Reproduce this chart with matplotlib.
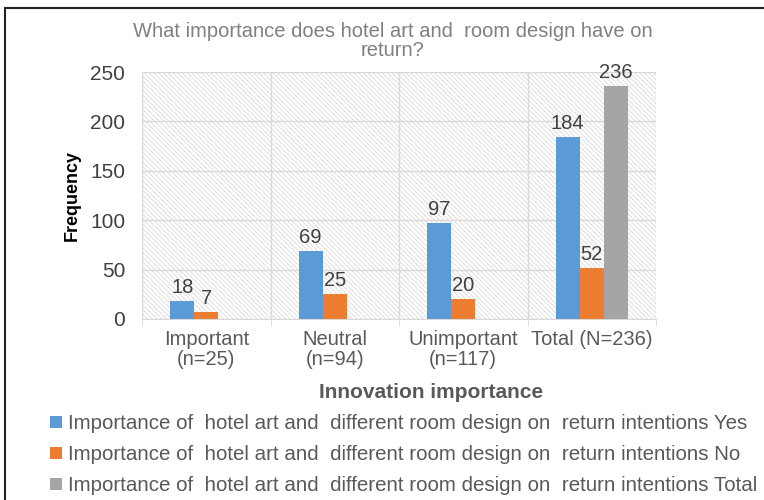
import numpy as np
import matplotlib.pyplot as plt
from matplotlib.patches import Rectangle

# ------------------------------
# Data
# ------------------------------
categories = ["Important\n(n=25)", "Neutral\n(n=94)", "Unimportant\n(n=117)", "Total (N=236)"]
yes_vals = [18, 69, 97, 184]
no_vals = [7, 25, 20, 52]
total_vals = [np.nan, np.nan, np.nan, 236]
series_names = [
    "Importance of  hotel art and  different room design on  return intentions Yes",
    "Importance of  hotel art and  different room design on  return intentions No",
    "Importance of  hotel art and  different room design on  return intentions Total",
]
series_colors = ["#5b9bd5", "#ed7d31", "#a5a5a5"]

plt.rcParams['font.family'] = ['Liberation Sans', 'DejaVu Sans']
plt.rcParams['hatch.linewidth'] = 0.6
plt.rcParams['hatch.color'] = '#d9d9d9'

fig = plt.figure(figsize=(7.64, 5.0), dpi=100)
ax = fig.add_axes([142/764, 1 - 319/500, (656-142)/764, (319-72)/500])

# hatched plot-area background
ax.add_patch(Rectangle((0, 0), 1, 1, transform=ax.transAxes, facecolor='white',
                       edgecolor='#d9d9d9', hatch='\\\\\\\\\\\\\\', linewidth=0, zorder=0))

x = np.arange(len(categories))
w = 0.187
text_col = '#404040'
for i, (vals, col, name) in enumerate(zip([yes_vals, no_vals, total_vals], series_colors, series_names)):
    pos = x + (i - 1) * w
    ax.bar(pos, vals, width=w, color=col, label=name, zorder=3)
    for p, v in zip(pos, vals):
        if not np.isnan(v):
            ax.text(p, v + 4, f"{int(v)}", ha='center', va='bottom', fontsize=14.5,
                    color=text_col, zorder=4)

ax.set_xlim(-0.5, 3.5)
ax.set_ylim(0, 250)
ax.set_yticks(range(0, 251, 50))
ax.tick_params(axis='y', length=0, labelsize=15, colors='#404040', pad=12)
ax.set_xticks(x)
ax.set_xticklabels(categories, fontsize=14.5, color='#595959', linespacing=1.05)
ax.tick_params(axis='x', length=0, pad=8)
ax.set_xticks(np.arange(-0.5, 4, 1), minor=True)
ax.tick_params(axis='x', which='minor', length=5, color='#d9d9d9')

ax.grid(axis='y', color='#d9d9d9', linewidth=1, zorder=1)
ax.grid(axis='x', which='minor', color='#d9d9d9', linewidth=1, zorder=1)
for s in ['top', 'right', 'left']:
    ax.spines[s].set_visible(False)
ax.spines['bottom'].set_color('#d9d9d9')

ax.set_ylabel("Frequency", fontsize=13, fontweight='bold', color='black', labelpad=7)
fig.text(431/764, 1 - 393/500, "Innovation importance", ha='center', va='center',
         fontsize=15, fontweight='bold', color='#595959')

fig.text(393/764, 1 - 41/500, "What importance does hotel art and  room design have on\nreturn?",
         ha='center', va='center', fontsize=14.5, color='#808080', linespacing=1.0)

handles, labels = ax.get_legend_handles_labels()
fig.legend(handles, labels, loc='upper left', bbox_to_anchor=(42/764, 1 - 406/500),
           frameon=False, fontsize=14.8, handlelength=0.55, handleheight=0.55,
           handletextpad=0.3, labelspacing=0.58, labelcolor='#595959', borderaxespad=0)

# outer chart frame
fig.add_artist(Rectangle((5/764, -0.1), 1.1, 1 - 8/500 + 0.1, transform=fig.transFigure,
                         fill=False, edgecolor='#222222', linewidth=1.5))

fig.savefig('out.png', dpi=100)
